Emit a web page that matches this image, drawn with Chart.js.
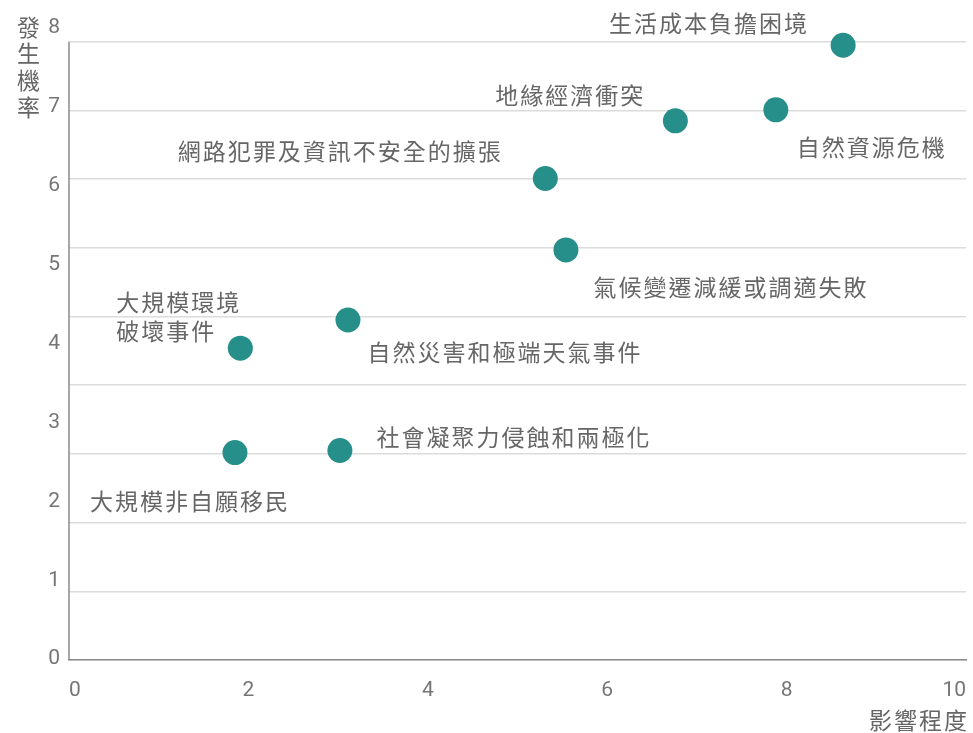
<!DOCTYPE html>
<html>
<head>
<meta charset="utf-8">
<script src="https://cdn.jsdelivr.net/npm/chart.js@4.4.1/dist/chart.umd.min.js"></script>
<style>
  html, body { margin: 0; padding: 0; background: #fff; overflow: hidden; }
  #wrap { position: relative; width: 973px; height: 733px; }
</style>
</head>
<body>
<div id="wrap"><canvas id="riskChart"></canvas></div>
<script>
// risks, impact (x) and likelihood (y)
const riskNames = [
    '生活成本負擔困境',
    '自然資源危機',
    '地緣經濟衝突',
    '網路犯罪及資訊不安全的擴張',
    '氣候變遷減緩或調適失敗',
    '自然災害和極端天氣事件',
    '大規模環境\n破壞事件',
    '社會凝聚力侵蝕和兩極化',
    '大規模非自願移民'
];
const impactValues = [8.63, 7.88, 6.76, 5.31, 5.54, 3.11, 1.91, 3.02, 1.85];
const likelihoodValues = [8.95, 8.01, 7.85, 7.01, 5.97, 4.95, 4.54, 3.05, 3.02];

const xTickValues = [0, 2, 4, 6, 8, 10];
const yTickValues = [0, 1, 2, 3, 4, 5, 6, 7, 8];
const gridValues = [0, 1, 2, 3, 4, 5, 6, 7, 8, 9];

// where each label sits relative to its dot (pixels)
const labelPlacement = [
    { dx: -134, dy: -22, align: 'center' },
    { dx: 96, dy: 37, align: 'center' },
    { dx: -105, dy: -26, align: 'center' },
    { dx: -205, dy: -27, align: 'center' },
    { dx: 165, dy: 37, align: 'center' },
    { dx: 157, dy: 32, align: 'center' },
    { dx: -124, dy: -46, align: 'left' },
    { dx: 174, dy: -13, align: 'center' },
    { dx: -45, dy: 49, align: 'center' }
];

const textColor = '#666666';
const tickColor = '#757575';
const axisColor = '#8a8a8a';
const cjkFont = '"Noto Sans CJK TC", "Noto Sans CJK SC", sans-serif';

const annotatePlugin = {
    id: 'annotate',
    beforeDatasetsDraw(chart) {
        // left axis line only spans the gridded range
        const ctx = chart.ctx;
        const ys = chart.scales.y;
        const left = chart.chartArea.left;
        ctx.save();
        ctx.strokeStyle = axisColor;
        ctx.lineWidth = 1.5;
        ctx.beginPath();
        ctx.moveTo(left, ys.getPixelForValue(gridValues[gridValues.length - 1]));
        ctx.lineTo(left, ys.getPixelForValue(0));
        ctx.stroke();
        ctx.restore();
    },
    afterDatasetsDraw(chart) {
        const ctx = chart.ctx;
        const meta = chart.getDatasetMeta(0);
        ctx.save();
        ctx.fillStyle = textColor;
        ctx.textBaseline = 'middle';
        ctx.font = '23px ' + cjkFont;
        ctx.letterSpacing = '2px';
        meta.data.forEach((pt, i) => {
            const p = labelPlacement[i];
            ctx.textAlign = p.align;
            riskNames[i].split('\n').forEach((line, k) => {
                ctx.fillText(line, pt.x + p.dx, pt.y + p.dy + k * 29);
            });
        });

        // x axis title, bottom right
        ctx.textAlign = 'right';
        ctx.fillText('影響程度', chart.chartArea.right + 3, 720);

        // y axis title, stacked characters
        ctx.letterSpacing = '0px';
        ctx.textAlign = 'center';
        Array.from('發生機率').forEach((ch, k) => {
            ctx.fillText(ch, 28.5, 27 + k * 26.7);
        });
        ctx.restore();
    }
};

const riskChart = new Chart(document.getElementById('riskChart'), {
    type: 'scatter',
    data: {
        datasets: [{
            data: riskNames.map((n, i) => ({ x: impactValues[i], y: likelihoodValues[i] })),
            xAxisID: 'x',
            yAxisID: 'y',
            backgroundColor: '#268f89',
            borderWidth: 0,
            pointRadius: 12.5,
            pointHoverRadius: 12.5
        }]
    },
    options: {
        responsive: true,
        maintainAspectRatio: false,
        animation: false,
        events: [],
        layout: { autoPadding: false, padding: { top: 26, right: 7, bottom: 0, left: 0 } },
        plugins: {
            legend: { display: false },
            tooltip: { enabled: false }
        },
        scales: {
            x: {
                type: 'linear',
                min: 0,
                max: 10,
                afterBuildTicks: s => { s.ticks = xTickValues.map(v => ({ value: v })); },
                afterFit: s => { s.height = 73; },
                grid: { display: false, drawTicks: true, tickLength: 17 },
                border: { color: axisColor, width: 1.5 },
                ticks: {
                    align: 'inner',
                    padding: 1,
                    color: tickColor,
                    font: { family: 'Roboto', size: 21 }
                }
            },
            y: {
                type: 'linear',
                position: 'right',
                min: 0,
                max: 9.23,
                afterBuildTicks: s => { s.ticks = gridValues.map(v => ({ value: v })); },
                afterFit: s => { s.width = 0; },
                grid: { color: '#dcdcdc', lineWidth: 1.5, drawTicks: false },
                border: { display: false },
                ticks: { display: false, padding: 0 }
            },
            yLabels: {
                type: 'linear',
                position: 'left',
                min: -0.01,
                max: 8.02,
                afterBuildTicks: s => { s.ticks = yTickValues.map(v => ({ value: v })); },
                afterFit: s => { s.width = 69; },
                grid: { display: false, drawTicks: false },
                border: { display: false },
                ticks: {
                    padding: 9,
                    color: tickColor,
                    font: { family: 'Roboto', size: 21 }
                }
            }
        }
    },
    plugins: [annotatePlugin]
});
</script>
</body>
</html>
